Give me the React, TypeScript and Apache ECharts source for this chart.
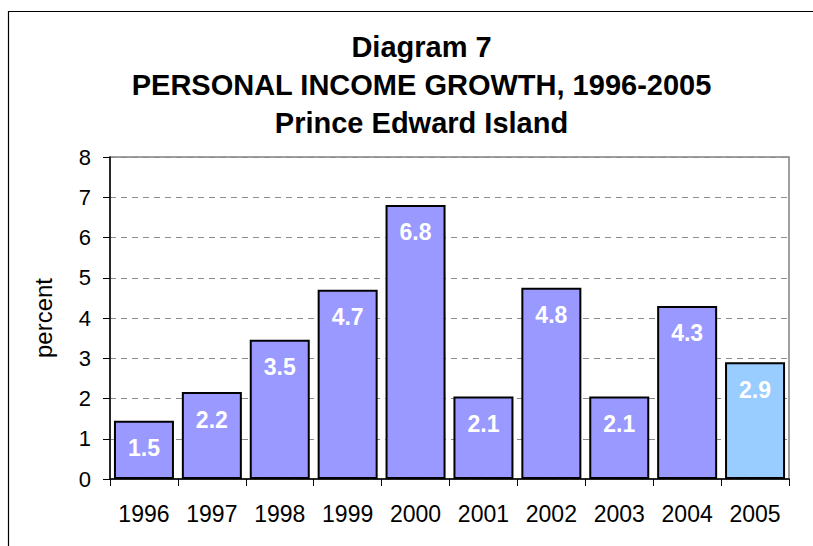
import React, { useEffect, useRef } from "react";
import * as echarts from "echarts";

const years = ["1996", "1997", "1998", "1999", "2000", "2001", "2002", "2003", "2004", "2005"];
const growth = [1.45, 2.16, 3.46, 4.7, 6.81, 2.05, 4.75, 2.05, 4.3, 2.9];
const growthLabels = ["1.5", "2.2", "3.5", "4.7", "6.8", "2.1", "4.8", "2.1", "4.3", "2.9"];
const barColors = ["#9999FF", "#9999FF", "#9999FF", "#9999FF", "#9999FF", "#9999FF", "#9999FF", "#9999FF", "#9999FF", "#99CCFF"];
const titleLines = ["Diagram 7", "PERSONAL INCOME GROWTH, 1996-2005", "Prince Edward Island"];
const yAxisName = "percent";

const FONT = "'Liberation Sans', Arial, sans-serif";

export default function App() {
  const ref = useRef<HTMLDivElement>(null);
  useEffect(() => {
    if (!ref.current) return;
    const chart = echarts.init(ref.current, null, { renderer: "svg" });
    chart.setOption({
      animation: false,
      backgroundColor: "#ffffff",
      title: {
        text: titleLines.join("\n"),
        left: 421.5,
        top: 28,
        padding: 0,
        textAlign: "center",
        textStyle: {
          fontFamily: FONT,
          fontWeight: "bold",
          fontSize: 29,
          lineHeight: 38,
          color: "#000",
        },
      },
      graphic: [
        {
          type: "rect",
          shape: { x: 8.5, y: 11.5, width: 900, height: 700 },
          style: { fill: "none", stroke: "#000", lineWidth: 1.2 },
          silent: true,
          z: -1,
        },
      ],
      grid: {
        left: 110,
        right: 24,
        top: 157,
        bottom: 67,
        show: true,
        borderColor: "#808080",
        borderWidth: 1.5,
      },
      xAxis: {
        type: "category",
        data: years,
        axisLine: { show: true, lineStyle: { color: "#000", width: 1.5 } },
        axisTick: { show: true, alignWithLabel: false, length: 7, lineStyle: { color: "#000", width: 1 } },
        axisLabel: { margin: 23, fontFamily: FONT, fontSize: 23, color: "#000" },
        splitLine: { show: false },
      },
      yAxis: {
        type: "value",
        min: 0,
        max: 8,
        interval: 1,
        name: yAxisName,
        nameLocation: "middle",
        nameGap: 55,
        nameRotate: 90,
        nameTextStyle: { fontFamily: FONT, fontSize: 24, color: "#000" },
        axisLine: { show: true, lineStyle: { color: "#000", width: 1.5 } },
        axisTick: { show: true, length: 7, lineStyle: { color: "#000", width: 1 } },
        axisLabel: { margin: 19, fontFamily: FONT, fontSize: 22, color: "#000" },
        splitLine: { show: true, lineStyle: { color: "#8c8c8c", type: [6, 5], width: 1 } },
      },
      series: [
        {
          type: "bar",
          data: growth.map((v, i) => ({
            value: v,
            itemStyle: { color: barColors[i], borderColor: "#000", borderWidth: 2 },
          })),
          barWidth: 60,
          label: {
            show: true,
            position: "insideTop",
            distance: 16,
            formatter: (p: any) => growthLabels[p.dataIndex],
            fontFamily: FONT,
            fontWeight: "bold",
            fontSize: 23,
            color: "#ffffff",
          },
        },
      ],
    });
    return () => chart.dispose();
  }, []);
  return (
    <div
      ref={ref}
      style={{ position: "fixed", left: 0, top: 0, width: 813, height: 546 }}
    />
  );
}
